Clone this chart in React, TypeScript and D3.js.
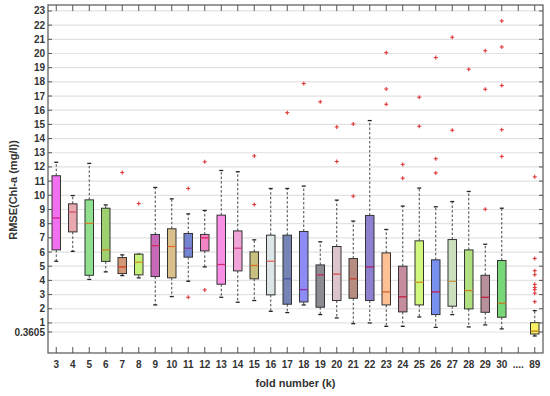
import React from "react";
import * as d3 from "d3";

const categories = ["3","4","5","6","7","8","9","10","11","12","13","14","15","16","17","18","19","20","21","22","23","24","25","26","27","28","29","30","....","89"];
const whiskerLow: (number | null)[] = [5.35,6.05,4.07,4.6,4.34,4.18,2.27,2.86,3.94,4.95,2.81,2.46,2.58,1.82,1.73,2.27,1.59,1.35,0.95,1.0,0.76,0.76,1.42,0.69,1.59,0.72,0.86,0.58,null,0.08];
const q1: (number | null)[] = [6.15,7.42,4.36,5.34,4.48,4.39,4.27,4.18,5.64,6.08,3.73,4.67,4.11,2.98,2.32,2.48,2.11,2.58,2.74,2.58,2.27,1.78,2.27,1.59,2.18,1.99,1.75,1.4,null,0.22];
const median: (number | null)[] = [8.4,8.82,8.02,6.15,4.95,5.28,6.45,6.39,6.27,7.0,5.12,6.27,5.05,5.35,4.11,3.35,4.39,4.44,4.11,4.95,3.19,2.84,3.87,3.19,3.94,3.28,2.81,2.39,null,0.42];
const q3: (number | null)[] = [11.38,9.4,9.68,9.09,5.61,5.85,7.24,7.64,7.31,7.24,8.6,7.49,6.01,7.19,7.19,7.45,5.09,6.39,5.54,8.58,5.94,5.0,6.79,5.45,6.88,6.15,4.36,5.4,null,1.02];
const whiskerHigh: (number | null)[] = [12.33,9.98,12.25,9.32,5.8,5.85,10.55,9.75,8.69,8.93,11.75,11.66,6.86,10.48,10.48,10.65,6.72,9.66,8.18,15.27,7.59,9.24,10.51,9.19,9.56,10.27,6.55,9.09,null,1.87];

const outlierCat = ["7","8","11","11","12","12","15","15","17","18","19","20","20","21","21","23","23","23","24","24","25","25","26","26","26","27","27","28","29","29","29","30","30","30","30","30","89","89","89","89","89","89","89","89","89"];
const outlierVal = [11.61,9.42,10.48,2.81,12.36,3.33,12.78,9.35,15.83,17.88,16.59,14.82,12.38,15.03,9.94,20.06,17.5,16.42,12.18,11.21,16.92,14.87,19.71,12.58,11.58,21.15,14.59,18.89,20.2,17.48,9.02,22.3,20.46,17.74,14.63,12.74,11.3,5.55,4.68,4.4,3.72,3.5,3.35,3.1,2.5];

const yTickValues = [0.3605,1,2,3,4,5,6,7,8,9,10,11,12,13,14,15,16,17,18,19,20,21,22,23];

const fillColors = ["#f070f0","#e8a8b0","#8ee08e","#9ed070","#d49878","#c4f27a","#c868b8","#dcc08c","#7484d0","#f084c4","#f890e8","#f0a4d8","#c8c080","#dde6e6","#7484b4","#8c8cf4","#8c8c94","#dcc4cc","#b88c80","#8c80d0","#ffc094","#c48c9c","#d0f87c","#7890f0","#cce0c0","#b0e080","#b8909c","#78d878","#ffffff","#f8f060"];
const medianColors = ["#d0208a","#d05070","#d08030","#d08020","#d04020","#d09020","#d03060","#e07030","#8040a0","#e02060","#d03070","#d04080","#d07020","#e06060","#5050a0","#9030a0","#c03050","#d05050","#c04030","#b02060","#d06030","#c02040","#d09020","#c02050","#c09040","#d08020","#c02040","#c08020","#000000","#c08020"];

const W = 550, H = 396;
const L = 48, R = 543, T = 5, B = 353;
const FONT = "'Liberation Sans Narrow', 'Liberation Sans', Arial, sans-serif";

export default function App() {
  const x = d3.scaleBand<string>().domain(categories).range([L, R]).padding(0);
  const y = d3.scaleLinear().domain([-1.12, 23.42]).range([B, T]);
  const bw = 8.5;
  const capW = 4;
  const cx = (c: string) => (x(c) as number) + x.bandwidth() / 2;

  return (
    <svg width={W} height={H} style={{ position: "absolute", left: 0, top: 0, background: "#fff" }}>
      {yTickValues.map((v) => (
        <line key={"g" + v} x1={L} x2={R} y1={y(v)} y2={y(v)} stroke="#e2e2e2" strokeWidth={1.2} />
      ))}
      {categories.map((c, i) => {
        if (q1[i] == null) return null;
        const X = cx(c);
        return (
          <g key={"b" + c}>
            <line x1={X} x2={X} y1={y(q3[i] as number)} y2={y(whiskerHigh[i] as number)} stroke="#444" strokeWidth={1} strokeDasharray="2.5,2" />
            <line x1={X} x2={X} y1={y(q1[i] as number)} y2={y(whiskerLow[i] as number)} stroke="#444" strokeWidth={1} strokeDasharray="2.5,2" />
            <line x1={X - capW / 2} x2={X + capW / 2} y1={y(whiskerHigh[i] as number)} y2={y(whiskerHigh[i] as number)} stroke="#222" strokeWidth={1.3} />
            <line x1={X - capW / 2} x2={X + capW / 2} y1={y(whiskerLow[i] as number)} y2={y(whiskerLow[i] as number)} stroke="#222" strokeWidth={1.3} />
            <rect x={X - bw / 2} width={bw} y={y(q3[i] as number)} height={y(q1[i] as number) - y(q3[i] as number)} fill={fillColors[i]} stroke="#333" strokeWidth={1} />
            <line x1={X - bw / 2} x2={X + bw / 2} y1={y(median[i] as number)} y2={y(median[i] as number)} stroke={medianColors[i]} strokeWidth={1.3} />
          </g>
        );
      })}
      {outlierVal.map((v, i) => {
        const X = cx(outlierCat[i]);
        const Y = y(v);
        return (
          <g key={"o" + i} stroke="#e03838" strokeWidth={1.1}>
            <line x1={X - 2} x2={X + 2} y1={Y} y2={Y} />
            <line x1={X} x2={X} y1={Y - 2} y2={Y + 2} />
          </g>
        );
      })}
      <rect x={L} y={T} width={R - L} height={B - T} fill="none" stroke="#555" strokeWidth={1.2} />
      {yTickValues.map((v) => (
        <g key={"yt" + v}>
          <line x1={L} x2={L + 4} y1={y(v)} y2={y(v)} stroke="#555" />
          <line x1={R - 4} x2={R} y1={y(v)} y2={y(v)} stroke="#555" />
          <text x={L - 3} y={y(v) + (v === 1 ? -0.5 : v === 0.3605 ? 0.5 : 0)} dy="0.35em" textAnchor="end" fontFamily={FONT} fontWeight="bold" fontSize={10} fill="#333">{v === 0.3605 ? "0.3605" : String(v)}</text>
        </g>
      ))}
      {categories.map((c) => (
        <g key={"xt" + c}>
          <line x1={cx(c)} x2={cx(c)} y1={B} y2={B - 6} stroke="#555" />
          <line x1={cx(c)} x2={cx(c)} y1={T} y2={T + 6} stroke="#555" />
          <text x={cx(c)} y={364} dy="0.35em" textAnchor="middle" fontFamily={FONT} fontWeight="bold" fontSize={10} fill="#333">{c}</text>
        </g>
      ))}
      <text x={(L + R) / 2} y={383} dy="0.35em" textAnchor="middle" fontFamily={FONT} fontWeight="bold" fontSize={11} fill="#333">fold number (k)</text>
      <text transform={`translate(13,190) rotate(-90)`} dy="0.35em" textAnchor="middle" fontFamily={FONT} fontWeight="bold" fontSize={11} fill="#333">RMSE(Chl-a (mg/l))</text>
    </svg>
  );
}
